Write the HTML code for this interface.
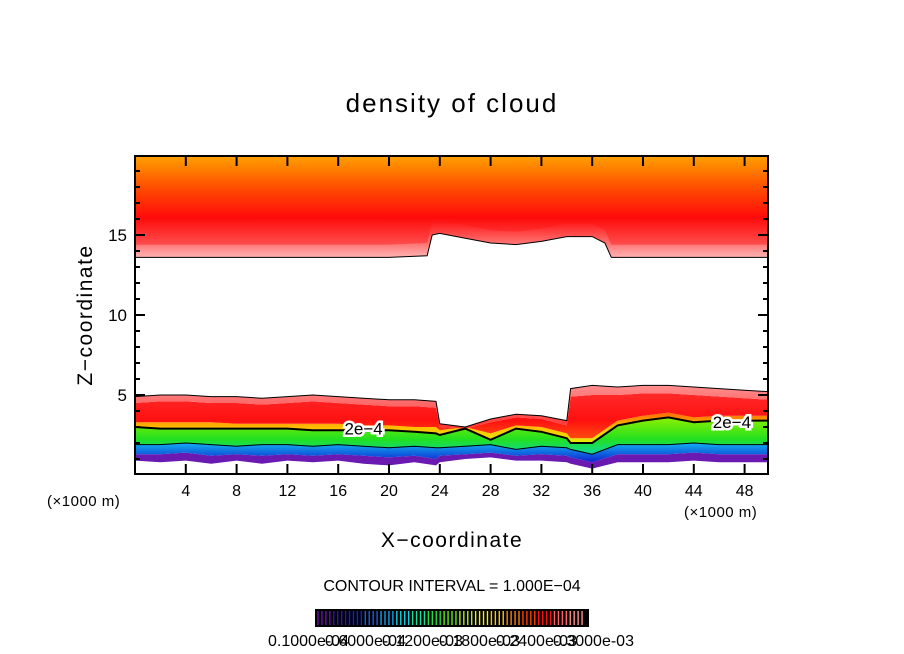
<!DOCTYPE html>
<html><head><meta charset="utf-8"><style>
body{margin:0;background:#fff;}
svg{display:block;font-family:"Liberation Sans",sans-serif;}
</style></head><body>
<svg id="chart" width="904" height="654" viewBox="0 0 904 654">
<defs>
<linearGradient id="gUp" gradientUnits="userSpaceOnUse" x1="0" y1="258" x2="0" y2="156">
<stop offset="0" stop-color="#ff9a9a"/><stop offset="0.12" stop-color="#ff5050"/><stop offset="0.4" stop-color="#ff0a0a"/><stop offset="0.7" stop-color="#ff5000"/><stop offset="1" stop-color="#ffa000"/></linearGradient>
<linearGradient id="gFringe" x1="0" y1="1" x2="0" y2="0"><stop offset="0" stop-color="#ffb0b0"/><stop offset="1" stop-color="#ff5050" stop-opacity="0"/></linearGradient>
<linearGradient id="gPink" x1="0" y1="1" x2="0" y2="0"><stop offset="0" stop-color="#ff3030"/><stop offset="1" stop-color="#ff9090"/></linearGradient>
<linearGradient id="gRed" x1="0" y1="1" x2="0" y2="0"><stop offset="0" stop-color="#ff4a10"/><stop offset="0.4" stop-color="#ff1010"/><stop offset="1" stop-color="#ff2a2a"/></linearGradient>
<linearGradient id="gOr" x1="0" y1="1" x2="0" y2="0"><stop offset="0" stop-color="#e0f000"/><stop offset="0.5" stop-color="#ffc000"/><stop offset="1" stop-color="#ff6a00"/></linearGradient>
<linearGradient id="gGreen" x1="0" y1="1" x2="0" y2="0"><stop offset="0" stop-color="#10d8a0"/><stop offset="0.4" stop-color="#20e020"/><stop offset="1" stop-color="#90f000"/></linearGradient>
<linearGradient id="gBlue" x1="0" y1="1" x2="0" y2="0"><stop offset="0" stop-color="#1020d0"/><stop offset="1" stop-color="#10b0f0"/></linearGradient>
</defs>
<text x="452" y="112" font-size="26" text-anchor="middle" letter-spacing="2">density of cloud</text>
<g id="plot"></g>
<text x="452" y="547" font-size="21" text-anchor="middle" letter-spacing="1.5">X−coordinate</text>
<text x="0" y="0" font-size="21" text-anchor="middle" letter-spacing="1.5" transform="translate(92,315) rotate(-90)">Z−coordinate</text>
<text x="47" y="506" font-size="15" letter-spacing="0.5">(×1000 m)</text>
<text x="684" y="517" font-size="15" letter-spacing="0.5">(×1000 m)</text>
<text x="452" y="591" font-size="16" text-anchor="middle">CONTOUR INTERVAL = 1.000E−04</text>
<g id="cbar"></g>
</svg>
<script>
const xs=[0,2,4,6,8,10,12,14,16,18,20,22,23.7,24,26,28,30,32,34,34.3,36,38,40,42,44,46,48,50];
const cloudTop=[4.9,5.0,5.0,4.9,4.9,4.8,4.9,5.0,4.9,4.8,4.7,4.7,4.6,3.2,3.0,3.5,3.8,3.7,3.4,5.4,5.6,5.5,5.6,5.6,5.5,5.4,5.3,5.2];
const redTop=[4.5,4.6,4.6,4.5,4.5,4.4,4.5,4.6,4.5,4.4,4.3,4.3,4.2,3.0,2.9,3.3,3.6,3.5,3.1,4.9,5.0,5.0,5.1,5.1,5.0,4.9,4.8,4.7];
const orangeTop=[3.3,3.3,3.3,3.3,3.2,3.2,3.2,3.2,3.2,3.1,3.1,3.0,3.0,2.8,3.0,2.6,3.1,3.0,2.6,2.3,2.3,3.4,3.7,3.9,3.6,3.7,3.7,3.7];
const contour2e4=[3.0,2.9,2.9,2.9,2.9,2.9,2.9,2.8,2.8,2.8,2.8,2.7,2.6,2.5,2.9,2.2,2.9,2.7,2.3,2.0,2.0,3.1,3.4,3.6,3.3,3.4,3.4,3.4];
const greenBottom=[1.9,1.9,2.0,1.9,1.8,1.9,1.9,1.8,1.9,1.8,1.7,1.8,1.7,1.7,1.8,1.9,1.6,1.8,1.7,1.6,1.3,1.9,1.9,1.9,2.0,1.9,1.9,1.9];
const blueBottom=[1.3,1.3,1.4,1.2,1.3,1.2,1.3,1.2,1.3,1.2,1.1,1.2,1.0,1.2,1.3,1.4,1.2,1.3,1.2,1.1,0.8,1.3,1.3,1.3,1.4,1.3,1.3,1.3];
const cloudBottom=[0.9,0.8,0.9,0.7,0.9,0.7,0.9,0.8,0.9,0.7,0.6,0.8,0.6,0.8,1.0,1.1,0.9,0.9,0.8,0.7,0.4,0.8,0.8,0.8,0.9,0.8,0.8,0.8];
const xsUp=[0,4,8,12,16,20,23,23.4,24,26,28,30,32,34,36,37,37.5,40,44,48,50];
const upperBase=[13.6,13.6,13.6,13.6,13.6,13.6,13.7,15.0,15.1,14.8,14.5,14.4,14.6,14.9,14.9,14.5,13.6,13.6,13.6,13.6,13.6];
const xTicks=[4,8,12,16,20,24,28,32,36,40,44,48];
const yTicks=[5,10,15];
const cbarLabels=["0.1000e-04","0.6000e-04","0.1200e-03","0.1800e-03","0.2400e-03","0.3000e-03"];
const cbarColors=["#6a10b0","#3010c0","#1020e0","#1060f0","#10a0f0","#10d0e0","#10e0a0","#20e040","#60f000","#b0f000","#f0f000","#ffc000","#ff8000","#ff4000","#ff1010","#ff6060","#ff9090"];

const NS="http://www.w3.org/2000/svg";
const X0=135,X1=768,Y0=156,Y1=474;
const sx=v=>X0+v*12.7, sz=v=>475-v*16;
const plot=document.getElementById('plot');
function mk(tag,attrs,parent){const e=document.createElementNS(NS,tag);for(const k in attrs)e.setAttribute(k,attrs[k]);parent.appendChild(e);return e;}
function line(x,a){return x.map((v,i)=>(i?'L':'M')+sx(v).toFixed(1)+','+sz(a[i]).toFixed(1)).join('');}
function band(x,lo,hi){let d=line(x,hi);for(let i=x.length-1;i>=0;i--)d+='L'+sx(x[i]).toFixed(1)+','+sz(lo[i]).toFixed(1);return d+'Z';}
const clip=mk('clipPath',{id:'pc'},document.querySelector('defs'));
mk('rect',{x:X0,y:Y0,width:X1-X0,height:Y1-Y0},clip);
const g=mk('g',{'clip-path':'url(#pc)'},plot);


const topLine=xsUp.map(()=>21);
let p=mk('path',{d:band(xsUp,upperBase,topLine),fill:'url(#gUp)'},g);


const fr=upperBase.map(v=>v+0.8);
p=mk('path',{d:band(xsUp,upperBase,fr),fill:'url(#gFringe)'},g);


p=mk('path',{d:line(xsUp,upperBase),fill:'none',stroke:'#000','stroke-width':1},g);


const bands=[[cloudBottom,blueBottom,'#6a1ab0','band-purple'],[blueBottom,greenBottom,'url(#gBlue)','band-blue'],[greenBottom,contour2e4,'url(#gGreen)','band-green'],[contour2e4,orangeTop,'url(#gOr)','band-orange'],[orangeTop,redTop,'url(#gRed)','band-red'],[redTop,cloudTop,'url(#gPink)','band-pink']];
bands.forEach(b=>{const e=mk('path',{d:band(xs,b[0],b[1]),fill:b[2]},g);

});
p=mk('path',{d:line(xs,cloudTop),fill:'none',stroke:'#000','stroke-width':1},g);


p=mk('path',{d:line(xs,greenBottom),fill:'none',stroke:'#000','stroke-width':1},g);


p=mk('path',{d:line(xs,contour2e4),fill:'none',stroke:'#000','stroke-width':2},g);


[[18,2.9],[47,3.3]].forEach(c=>{
 mk('rect',{x:sx(c[0])-25,y:sz(c[1])-9,width:48,height:18,fill:'none'},g);
 const t=mk('text',{x:sx(c[0]),y:sz(c[1])+6,'font-size':17,'text-anchor':'middle',stroke:'#fff','stroke-width':5,'paint-order':'stroke'},plot);
 t.textContent='2e−4';
 
 
});
const ax=mk('g',{stroke:'#000','stroke-width':2,fill:'none'},plot);


mk('rect',{x:X0,y:Y0,width:X1-X0,height:Y1-Y0},ax);
xTicks.forEach(v=>{mk('line',{x1:sx(v),x2:sx(v),y1:Y1,y2:Y1-10},ax);mk('line',{x1:sx(v),x2:sx(v),y1:Y0,y2:Y0+10},ax);
 const t=mk('text',{x:sx(v),y:496,'font-size':16,'text-anchor':'middle'},plot);t.textContent=v;
 
 });
for(let z=1;z<=19;z++){const L=(z%5==0)?10:5;mk('line',{x1:X0,x2:X0+L,y1:sz(z),y2:sz(z)},ax);mk('line',{x1:X1,x2:X1-L,y1:sz(z),y2:sz(z)},ax);}
yTicks.forEach(v=>{const t=mk('text',{x:127,y:sz(v)+6,'font-size':17,'text-anchor':'end'},plot);t.textContent=v;
 
 });
const cb=document.getElementById('cbar');
mk('rect',{x:315,y:609,width:274,height:18,fill:'#000'},cb);
const n=cbarColors.length*4;
for(let i=0;i<n;i++){const c=cbarColors[Math.floor(i/4)];const x=318+i*(268/n);
 mk('line',{x1:x,x2:x,y1:611,y2:625,stroke:c,'stroke-width':1.4},cb);}
cbarLabels.forEach((s,i)=>{const t=mk('text',{x:268+i*57,y:646,'font-size':16},cb);t.textContent=s;
 
 });
</script>
</body></html>
